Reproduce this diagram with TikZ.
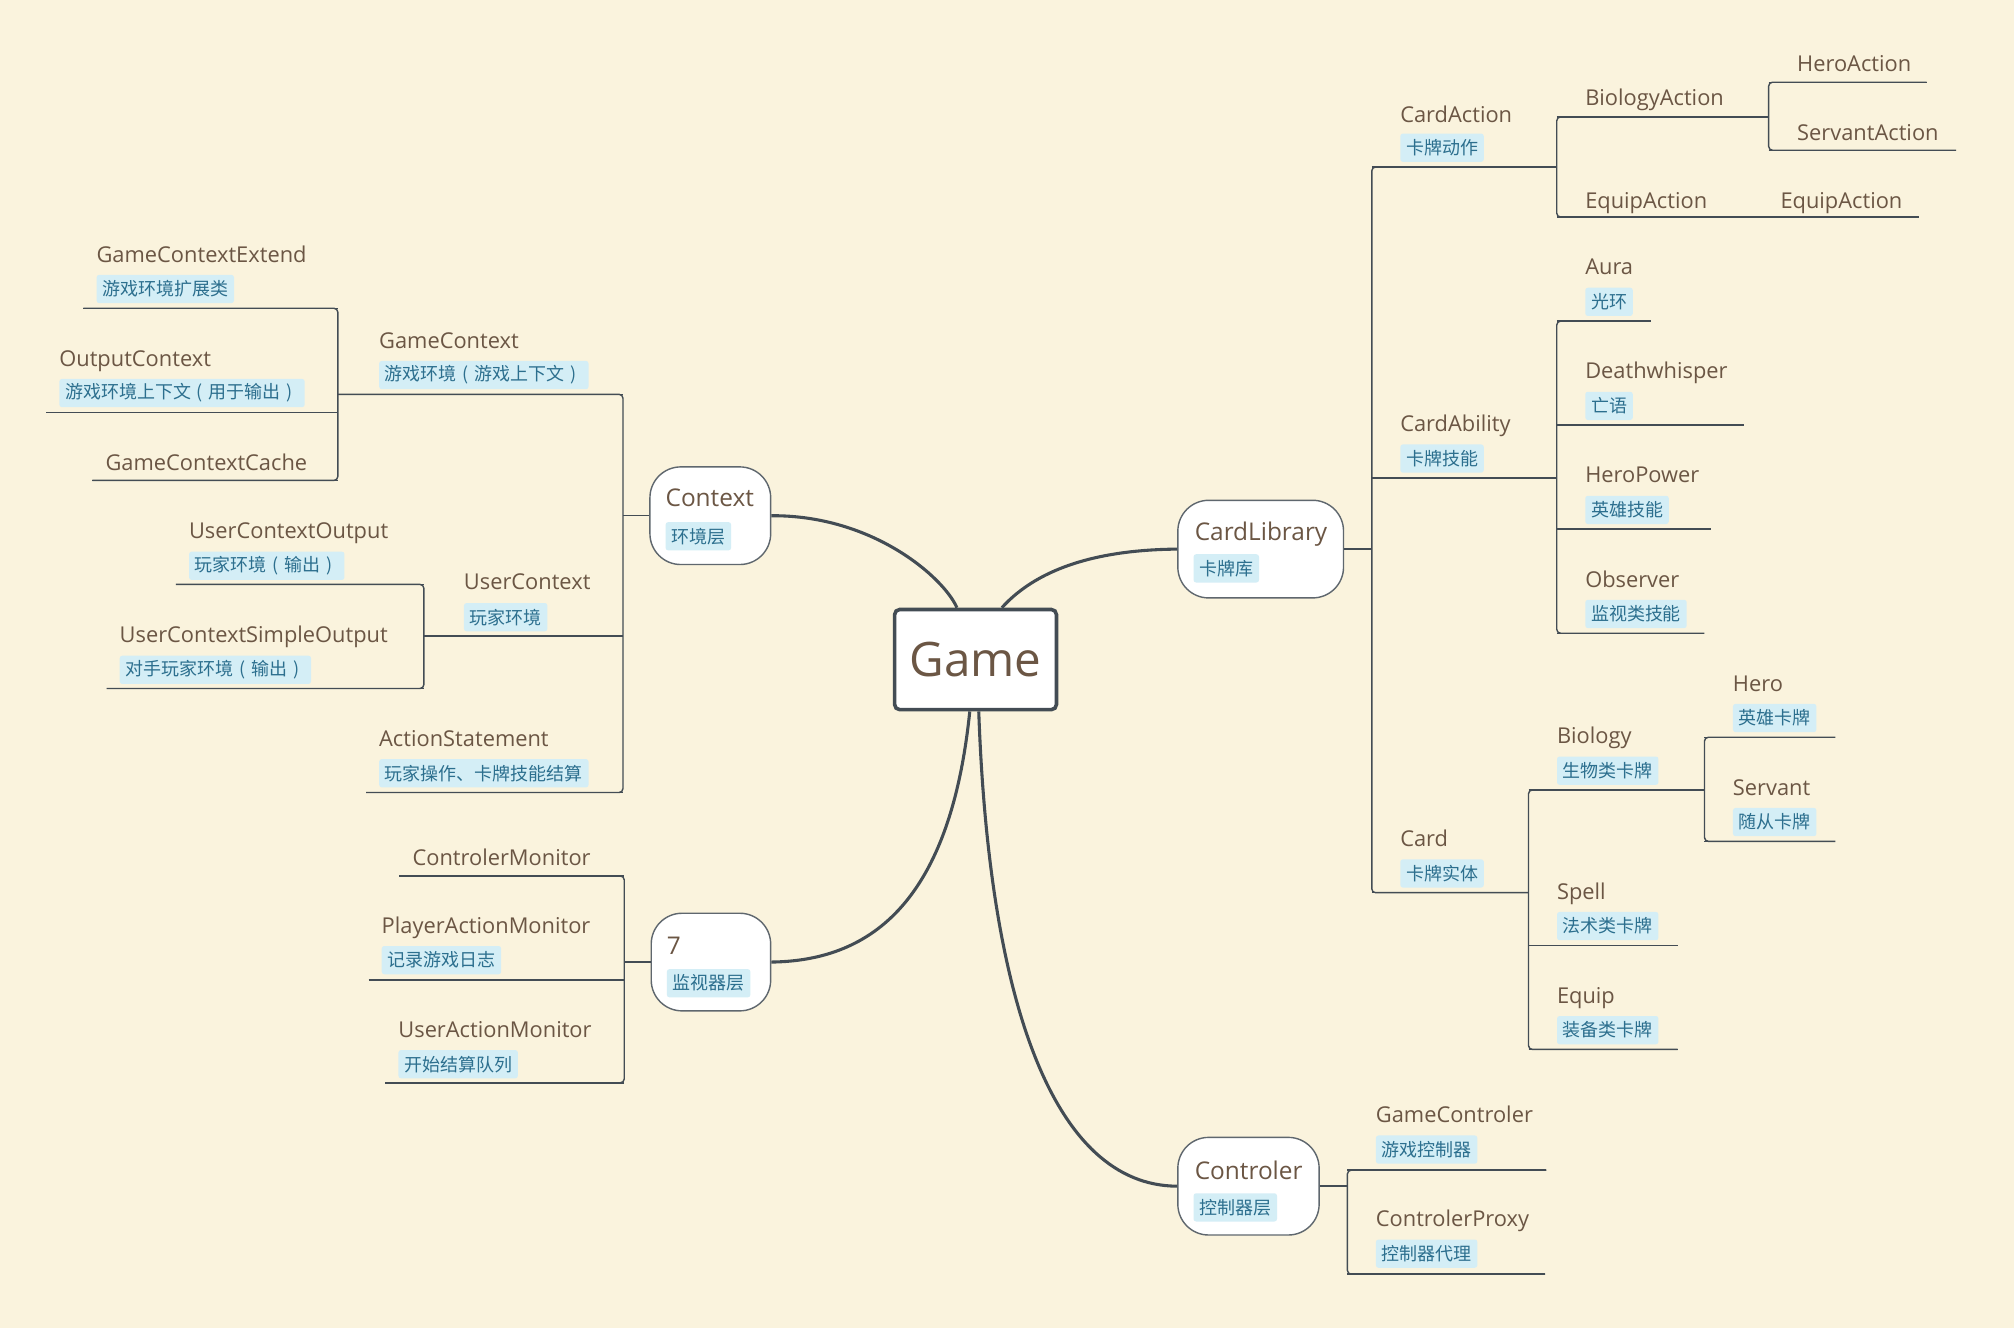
\documentclass[tikz,border=0pt]{standalone}
\usepackage{fontspec}
\setmainfont{Open Sans}
\newfontfamily\cjk{Noto Sans CJK SC}
\newcommand\zkopen{\makebox[1em]{(}}
\newcommand\zkclose{\makebox[1em]{)}}
\usepackage{xcolor}
\usepackage{tikz}
\usetikzlibrary{positioning, calc}

\definecolor{paper}{HTML}{FAF3DD}
\definecolor{ink}{HTML}{6B5644}
\definecolor{wire}{HTML}{434C54}
\definecolor{tagfill}{HTML}{D4EEF6}
\definecolor{tagink}{HTML}{2C6F8E}

\begin{document}
\begin{tikzpicture}[
  x=1pt, y=-1pt,
  topic/.style={
    anchor=base west, inner sep=0pt, text=ink,
    font=\fontsize{17}{20}\selectfont,
  },
  tagbox/.style={
    anchor=west, rectangle, rounded corners=2pt,
    fill=tagfill, text=tagink, font=\cjk\fontsize{14}{16}\selectfont,
    inner xsep=4.5pt, inner ysep=0pt, minimum height=22pt,
  },
  hub/.style={
    rectangle, draw=wire!85, line width=1.1pt, fill=white,
    rounded corners=24pt, minimum height=76pt,
  },
  hubtitle/.style={
    anchor=base west, inner sep=0pt, text=ink,
    font=\fontsize{19}{22}\selectfont,
  },
  branch/.style={draw=wire, line width=1.1pt, rounded corners=3pt},
  limb/.style={draw=wire, line width=2.4pt},
]
\fill[paper] (0,0) rectangle (1568,1034);

% root and the four hubs
\node[draw=wire, line width=2.8pt, fill=white, rounded corners=4pt,
  minimum width=126pt, minimum height=78pt, text=ink,
  font=\fontsize{37}{42}\selectfont] (game) at (759.5,513.5) {Game};

\node[hub, minimum width=94pt]  (context) at (553,401.5) {};
\node[hub, minimum width=129pt] (clib)    at (981.5,427.5) {};
\node[hub, minimum width=93pt]  (monitor) at (553.5,749) {};
\node[hub, minimum width=110pt] (ctrl)    at (972,923.5) {};

\node[hubtitle] (contextT) at (518,394) {Context};
\node[tagbox]   (contextL) at (518,417.5) {环境层};
\node[hubtitle] (clibT)    at (930,421) {CardLibrary};
\node[tagbox]   (clibL)    at (929,442.5) {卡牌库};
\node[hubtitle] (monitorT) at (519,743) {7};
\node[tagbox]   (monitorL) at (519,765.5) {监视器层};
\node[hubtitle] (ctrlT)    at (930,918) {Controler};
\node[tagbox]   (ctrlL)    at (929,940) {控制器层};

\draw[limb] (context.east) .. controls (680,401) and (735,450) .. ([xshift=-14.5pt]game.north);
\draw[limb] ([xshift=20.5pt]game.north) .. controls (810,440) and (860,428) .. (clib.west);
\draw[limb] ([xshift=-4.5pt]game.south) .. controls (740,700) and (680,748) .. (monitor.east);
\draw[limb] ([xshift=2.5pt]game.south) .. controls (770,780) and (820,923) .. (ctrl.west);

% Context side
\node[topic]  (gcx)  at (295,271) {GameContext};
\node[tagbox] (gcxL) at (295,292) {游戏环境\zkopen 游戏上下文\zkclose};
\node[topic]  (gce)  at (75,204) {GameContextExtend};
\node[tagbox] (gceL) at (75,225) {游戏环境扩展类};
\node[topic]  (ocx)  at (46,285) {OutputContext};
\node[tagbox] (ocxL) at (46,306) {游戏环境上下文\zkopen 用于输出\zkclose};
\node[topic]  (gcc)  at (82,366) {GameContextCache};
\node[topic]  (ucx)  at (361,459) {UserContext};
\node[tagbox] (ucxL) at (361,480.5) {玩家环境};
\node[topic]  (uco)  at (147,419) {UserContextOutput};
\node[tagbox] (ucoL) at (147,440.5) {玩家环境\zkopen 输出\zkclose};
\node[topic]  (uso)  at (93,500) {UserContextSimpleOutput};
\node[tagbox] (usoL) at (93,521.5) {对手玩家环境\zkopen 输出\zkclose};
\node[topic]  (ast)  at (295,581) {ActionStatement};
\node[tagbox] (astL) at (295,602) {玩家操作、卡牌技能结算};

% Monitor side
\node[topic]  (cmo)  at (321,674) {ControlerMonitor};
\node[topic]  (pam)  at (297,727) {PlayerActionMonitor};
\node[tagbox] (pamL) at (297,747.5) {记录游戏日志};
\node[topic]  (uam)  at (310,808) {UserActionMonitor};
\node[tagbox] (uamL) at (310,828.5) {开始结算队列};

% CardLibrary side
\node[topic]  (cac)  at (1090,95) {CardAction};
\node[tagbox] (cacL) at (1090,115) {卡牌动作};
\node[topic]  (bac)  at (1234,82) {BiologyAction};
\node[topic]  (hac)  at (1399,56) {HeroAction};
\node[topic]  (sac)  at (1399,109) {ServantAction};
\node[topic]  (eac)  at (1234,162) {EquipAction};
\node[topic]  (eaq)  at (1386,162) {EquipAction};
\node[topic]  (cab)  at (1090,336) {CardAbility};
\node[tagbox] (cabL) at (1090,357) {卡牌技能};
\node[topic]  (aur)  at (1234,214) {Aura};
\node[tagbox] (aurL) at (1234,235) {光环};
\node[topic]  (dwh)  at (1234,295) {Deathwhisper};
\node[tagbox] (dwhL) at (1234,316) {亡语};
\node[topic]  (hpw)  at (1234,376) {HeroPower};
\node[tagbox] (hpwL) at (1234,397) {英雄技能};
\node[topic]  (obs)  at (1234,457) {Observer};
\node[tagbox] (obsL) at (1234,478) {监视类技能};
\node[topic]  (crd)  at (1090,659) {Card};
\node[tagbox] (crdL) at (1090,680) {卡牌实体};
\node[topic]  (bio)  at (1212,579) {Biology};
\node[tagbox] (bioL) at (1212,600) {生物类卡牌};
\node[topic]  (her)  at (1349,538) {Hero};
\node[tagbox] (herL) at (1349,559) {英雄卡牌};
\node[topic]  (srv)  at (1349,619) {Servant};
\node[tagbox] (srvL) at (1349,640) {随从卡牌};
\node[topic]  (spl)  at (1212,700) {Spell};
\node[tagbox] (splL) at (1212,721) {法术类卡牌};
\node[topic]  (eqp)  at (1212,781) {Equip};
\node[tagbox] (eqpL) at (1212,802) {装备类卡牌};

% Controler side
\node[topic]  (gct)  at (1071,874) {GameControler};
\node[tagbox] (gctL) at (1071,895) {游戏控制器};
\node[topic]  (cpx)  at (1071,955) {ControlerProxy};
\node[tagbox] (cpxL) at (1071,976) {控制器代理};

% underline ends: name / left / right / y
\foreach \n/\a/\b/\y in {
  gcx/263/485/307, gce/65/263/240, ocx/36/263/321, gcc/72/263/374,
  ucx/330/485/495, uco/137/330/455, uso/83/330/536, ast/285/485/617,
  cmo/311/486/682, pam/287/486/763, uam/300/486/843,
  cac/1068/1212/130, bac/1212/1377/91, hac/1377/1500/64, sac/1377/1523/117,
  eac/1212/1356/169, eaq/1356/1494/169,
  cab/1068/1212/372, aur/1212/1285/250, dwh/1212/1358/331,
  hpw/1212/1332/412, obs/1212/1327/493,
  crd/1068/1190/695, bio/1190/1327/615, her/1327/1429/574, srv/1327/1429/655,
  spl/1190/1306/736, eqp/1190/1306/817,
  gct/1049/1204/911, cpx/1049/1203/992}
{
  \coordinate (\n-l) at (\a,\y);
  \coordinate (\n-r) at (\b,\y);
  \draw[branch] (\n-l) -- (\n-r);
}

% spines
\draw[branch] (gcx-l) -- (gcx-r) -- (ast-r) -- (ast-l);
\draw[branch] (gce-l) -- (gce-r) -- (gcc-r) -- (gcc-l);
\draw[branch] (uco-l) -- (uco-r) -- (uso-r) -- (uso-l);
\draw[branch] (cmo-l) -- (cmo-r) -- (uam-r) -- (uam-l);
\draw[branch] (cac-r) -- (cac-l) -- (crd-l) -- (crd-r);
\draw[branch] (bac-r) -- (bac-l) -- (eac-l) -- (eac-r);
\draw[branch] (hac-r) -- (hac-l) -- (sac-l) -- (sac-r);
\draw[branch] (aur-r) -- (aur-l) -- (obs-l) -- (obs-r);
\draw[branch] (bio-r) -- (bio-l) -- (eqp-l) -- (eqp-r);
\draw[branch] (her-r) -- (her-l) -- (srv-l) -- (srv-r);
\draw[branch] (gct-r) -- (gct-l) -- (cpx-l) -- (cpx-r);

\draw[branch] (context.west) -- (context.west -| gcx-r);
\draw[branch] (monitor.west) -- (monitor.west -| cmo-r);
\draw[branch] (clib.east) -- (clib.east -| cac-l);
\draw[branch] (ctrl.east) -- (ctrl.east -| gct-l);
\end{tikzpicture}
\end{document}
